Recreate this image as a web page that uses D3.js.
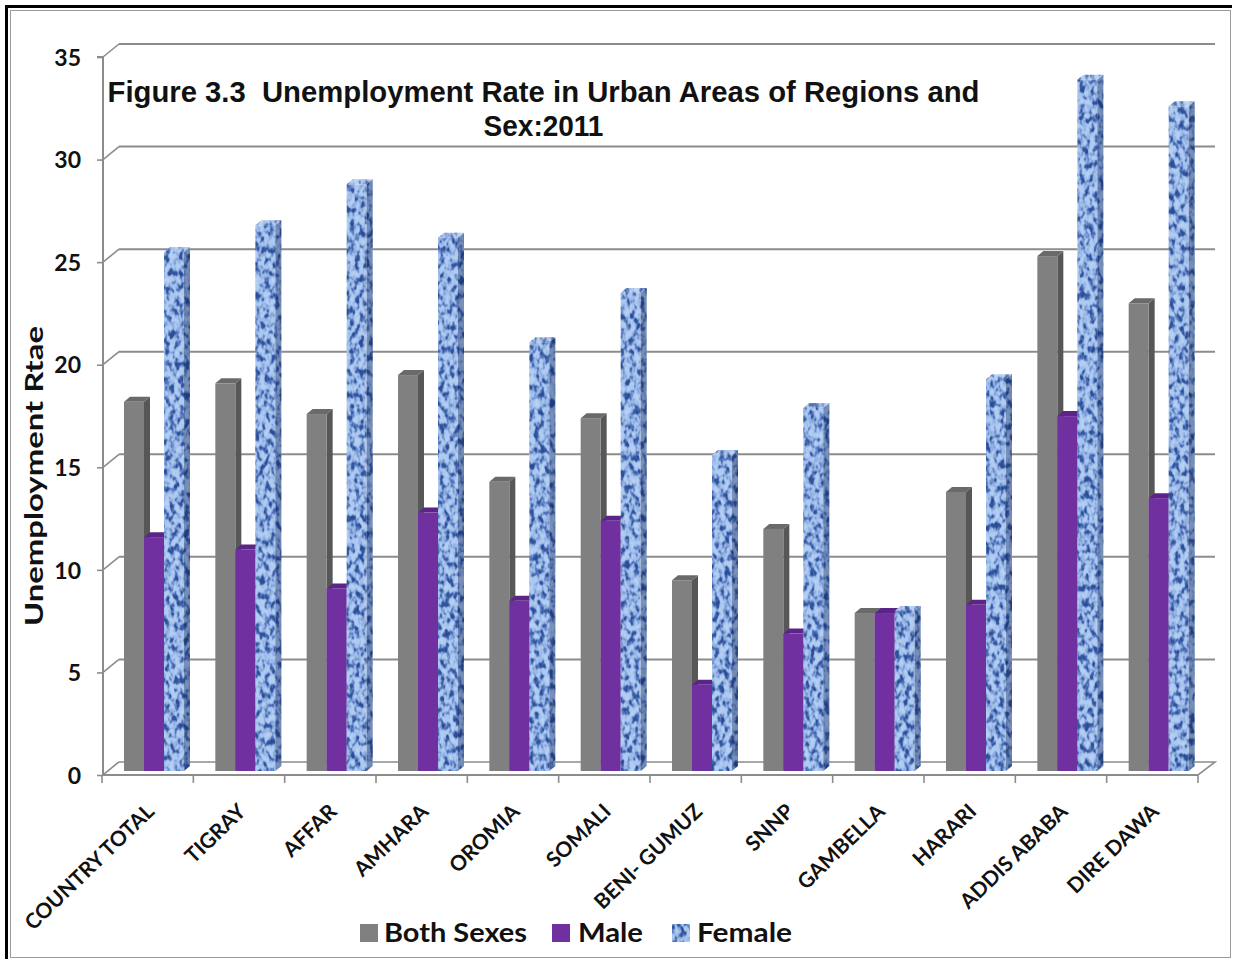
<!DOCTYPE html>
<html>
<head>
<meta charset="utf-8">
<script src="https://cdn.jsdelivr.net/npm/d3@7"></script>
<style>
  html, body { margin: 0; padding: 0; background: #ffffff; }
  svg { display: block; }
  text { white-space: pre; }
</style>
</head>
<body>
<script>
// ---------- data ----------
const categories = ["COUNTRY TOTAL", "TIGRAY", "AFFAR", "AMHARA", "OROMIA", "SOMALI",
  "BENI- GUMUZ", "SNNP", "GAMBELLA", "HARARI", "ADDIS ABABA", "DIRE DAWA"];
const seriesNames = ["Both Sexes", "Male", "Female"];
const bothSexes = [18.0, 18.9, 17.4, 19.3, 14.1, 17.2, 9.3, 11.8, 7.7, 13.6, 25.1, 22.8];
const male      = [11.4, 10.8, 8.9, 12.6, 8.3, 12.2, 4.2, 6.7, 7.7, 8.1, 17.3, 13.3];
const female    = [25.3, 26.6, 28.6, 26.0, 20.9, 23.3, 15.4, 17.7, 7.8, 19.1, 33.7, 32.4];
const yTicks = [0, 5, 10, 15, 20, 25, 30, 35];
const titleLines = ["Figure 3.3  Unemployment Rate in Urban Areas of Regions and", "Sex:2011"];
const yAxisTitle = "Unemployment Rtae";

// ---------- setup ----------
const W = 1233, H = 964;
const svg = d3.select("body").append("svg").attr("width", W).attr("height", H);
const defs = svg.append("defs");

// mottled blue texture for Female
const f = defs.append("filter").attr("id", "tex")
  .attr("color-interpolation-filters", "sRGB")
  .attr("x", "-5%").attr("y", "-5%").attr("width", "110%").attr("height", "110%");
f.append("feTurbulence").attr("type", "fractalNoise").attr("baseFrequency", "0.2 0.13")
  .attr("numOctaves", 2).attr("seed", 7).attr("result", "n");
f.append("feColorMatrix").attr("in", "n").attr("type", "matrix")
  .attr("values", "1 0 0 0 0  1 0 0 0 0  1 0 0 0 0  0 0 0 0 1").attr("result", "g");
const ct = f.append("feComponentTransfer").attr("in", "g").attr("result", "c");
ct.append("feFuncR").attr("type", "table").attr("tableValues", "0.17 0.17 0.17 0.20 0.36 0.58 0.67 0.70 0.72 0.72 0.72");
ct.append("feFuncG").attr("type", "table").attr("tableValues", "0.30 0.30 0.30 0.34 0.50 0.70 0.78 0.80 0.82 0.82 0.82");
ct.append("feFuncB").attr("type", "table").attr("tableValues", "0.58 0.58 0.58 0.62 0.76 0.89 0.94 0.95 0.96 0.96 0.96");
f.append("feComposite").attr("in", "c").attr("in2", "SourceGraphic").attr("operator", "in");

// ---------- frame ----------
svg.append("rect").attr("x", 10.5).attr("y", 10.5).attr("width", 1220).attr("height", 947)
  .attr("fill", "none").attr("stroke", "#9a9a9a").attr("stroke-width", 1);
svg.append("line").attr("x1", 5).attr("x2", 1232).attr("y1", 6.5).attr("y2", 6.5)
  .attr("stroke", "#000").attr("stroke-width", 3);
svg.append("line").attr("x1", 6.5).attr("x2", 6.5).attr("y1", 5).attr("y2", 959)
  .attr("stroke", "#000").attr("stroke-width", 3);

// ---------- scales ----------
const depthX = 16, depthY = -13;           // 3D depth of the floor/wall
const x0 = 103, x1 = 1198;                 // front axis extent
const yFront = d3.scaleLinear().domain([0, 35]).range([775, 57]);
const yBar = d3.scaleLinear().domain([0, 35]).range([771, 771 - 718]);
const xCat = d3.scaleBand().domain(categories).range([x0 - 1, x1]).padding(0);
const xSer = d3.scaleBand().domain(seriesNames).range([22, 82]).padding(0);
const barDX = 6, barDY = -5;

const gridColor = "#8c8c8c";

// ---------- back wall gridlines ----------
const grid = svg.append("g");
yTicks.forEach(t => {
  const yf = yFront(t);
  if (t > 0) {
    grid.append("line").attr("x1", x0 + depthX).attr("x2", x1 + depthX + 1)
      .attr("y1", yf + depthY).attr("y2", yf + depthY)
      .attr("stroke", gridColor).attr("stroke-width", 2);
  }
  grid.append("line").attr("x1", x0).attr("y1", yf).attr("x2", x0 + depthX).attr("y2", yf + depthY)
    .attr("stroke", gridColor).attr("stroke-width", 1.6);
});
// floor
const fy = yFront(0);
grid.append("path")
  .attr("d", `M${x0},${fy} L${x0 + depthX},${fy + depthY} L${x1 + depthX + 1},${fy + depthY} L${x1},${fy} Z`)
  .attr("fill", "#ffffff").attr("stroke", gridColor).attr("stroke-width", 1.6);

// y axis line + ticks
const yAxis = d3.axisLeft(yFront).tickValues(yTicks).tickSize(6).tickFormat(d3.format("d"));
const yg = svg.append("g").attr("transform", `translate(${x0},0)`).call(yAxis);
yg.select(".domain").attr("stroke", gridColor).attr("stroke-width", 2).attr("d", `M-6,${yFront(35)}H0V${yFront(0)}`);
yg.selectAll(".tick line").attr("stroke", gridColor).attr("stroke-width", 1.6);
yg.selectAll(".tick text").attr("x", -22).attr("dy", "0.36em")
  .attr("font-family", "Lato, 'DejaVu Sans', sans-serif").attr("font-weight", "bold")
  .attr("font-size", 23).attr("fill", "#111");

// x axis
const xg = svg.append("g").attr("transform", `translate(0,${fy})`);
xg.append("line").attr("x1", x0 - 1).attr("x2", x1).attr("y1", 0).attr("y2", 0)
  .attr("stroke", gridColor).attr("stroke-width", 2);
d3.range(categories.length + 1).forEach(i => {
  const xx = i < categories.length ? xCat(categories[i]) : x1;
  xg.append("line").attr("x1", xx).attr("x2", xx).attr("y1", 0).attr("y2", 8)
    .attr("stroke", gridColor).attr("stroke-width", 1.6);
});
xg.selectAll("text.cat").data(categories).join("text").attr("class", "cat")
  .attr("transform", d => `translate(${xCat(d) + xCat.bandwidth() / 2 + 8},${38}) rotate(-44)`)
  .attr("text-anchor", "end")
  .attr("font-family", "Lato, 'DejaVu Sans', sans-serif").attr("font-weight", "bold")
  .attr("font-size", 21).attr("fill", "#111").text(d => d);

// ---------- bars ----------
const seriesData = [bothSexes, male, female];
const styles = [
  { front: "#808080", side: "#575757", top: "#6a6a6a", tex: false },
  { front: "#7030a0", side: "#4e1e73", top: "#5c2488", tex: false },
  { front: "#8fb0e3", side: "#3e5f9e", top: "#a9c3ec", tex: true }
];
const bars = svg.append("g");
categories.forEach((c, ci) => {
  seriesNames.forEach((s, si) => {
    const v = seriesData[si][ci];
    const st = styles[si];
    const bx = xCat(c) + xSer(s);
    const bw = xSer.bandwidth();
    const yt = yBar(v), yb = yBar(0);
    const g = bars.append("g");
    const side = g.append("path")
      .attr("d", `M${bx + bw},${yb} L${bx + bw + barDX},${yb + barDY} L${bx + bw + barDX},${yt + barDY} L${bx + bw},${yt} Z`)
      .attr("fill", st.side);
    const top = g.append("path")
      .attr("d", `M${bx},${yt} L${bx + barDX},${yt + barDY} L${bx + bw + barDX},${yt + barDY} L${bx + bw},${yt} Z`)
      .attr("fill", st.top);
    const front = g.append("rect").attr("x", bx).attr("y", yt).attr("width", bw).attr("height", yb - yt)
      .attr("fill", st.front);
    if (st.tex) {
      side.attr("filter", "url(#tex)");
      g.append("path").attr("d", side.attr("d")).attr("fill", "#0b1e4a").attr("opacity", 0.35);
      top.attr("filter", "url(#tex)");
      g.append("path").attr("d", top.attr("d")).attr("fill", "#ffffff").attr("opacity", 0.15);
      front.attr("filter", "url(#tex)");
    }
  });
});

// ---------- title ----------
const title = svg.append("g").attr("font-family", "'Liberation Sans', Arial, sans-serif")
  .attr("font-weight", "bold").attr("fill", "#111");
title.append("text").attr("transform", "translate(543.5,102) scale(1,1.06)")
  .attr("text-anchor", "middle").attr("font-size", 28)
  .attr("textLength", 872).attr("lengthAdjust", "spacingAndGlyphs").text(titleLines[0]);
title.append("text").attr("transform", "translate(543.5,136) scale(1,1.06)")
  .attr("text-anchor", "middle").attr("font-size", 28).text(titleLines[1]);

// ---------- y axis title ----------
svg.append("text").attr("transform", "translate(43,476) rotate(-90)")
  .attr("text-anchor", "middle").attr("font-family", "Lato, 'DejaVu Sans', sans-serif")
  .attr("font-weight", "bold").attr("font-size", 25).attr("fill", "#111")
  .attr("textLength", 300).attr("lengthAdjust", "spacingAndGlyphs").text(yAxisTitle);

// ---------- legend ----------
const legendPos = [
  { sx: 360, tx: 384, tw: 143 },
  { sx: 552, tx: 578, tw: 65 },
  { sx: 672, tx: 697, tw: 95 }
];
const lg = svg.append("g");
seriesNames.forEach((s, i) => {
  const p = legendPos[i];
  const r = lg.append("rect").attr("x", p.sx).attr("y", 924).attr("width", 18).attr("height", 18)
    .attr("fill", styles[i].front);
  if (styles[i].tex) r.attr("filter", "url(#tex)");
  lg.append("text").attr("x", p.tx).attr("y", 942)
    .attr("font-family", "Lato, 'DejaVu Sans', sans-serif").attr("font-weight", "bold")
    .attr("font-size", 26).attr("fill", "#111")
    .attr("textLength", p.tw).attr("lengthAdjust", "spacingAndGlyphs").text(s);
});
</script>
</body>
</html>
